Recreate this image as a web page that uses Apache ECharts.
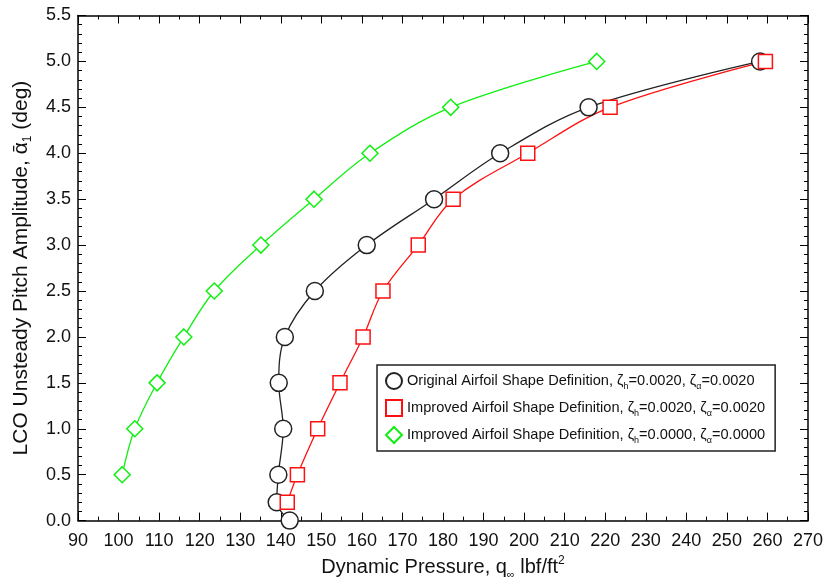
<!DOCTYPE html>
<html><head><meta charset="utf-8">
<script src="https://cdn.jsdelivr.net/npm/echarts@6/dist/echarts.min.js"></script>
<style>html,body{margin:0;padding:0;background:#fff}#c{width:826px;height:585px}</style>
</head><body><div id="c"></div>
<script>
const origY = [0.0, 0.2, 0.5, 1.0, 1.5, 2.0, 2.5, 3.0, 3.5, 4.0, 4.5, 5.0];
const origX = [142.2, 139.0, 139.4, 140.6, 139.5, 141.0, 148.4, 161.2, 177.8, 194.1, 215.9, 258.2];
const impY = [0.2, 0.5, 1.0, 1.5, 2.0, 2.5, 3.0, 3.5, 4.0, 4.5, 5.0];
const impX = [141.6, 144.1, 149.1, 154.6, 160.3, 165.2, 173.9, 182.5, 200.9, 221.2, 259.5];
const imp0Y = [0.5, 1.0, 1.5, 2.0, 2.5, 3.0, 3.5, 4.0, 4.5, 5.0];
const imp0X = [100.9, 104.0, 109.5, 116.1, 123.6, 135.1, 148.2, 162.0, 181.9, 217.9];
const seriesNames = ['orig', 'imp', 'imp0'];
const legendLabels = {
  orig: 'Original Airfoil Shape Definition, ζ{s|h}=0.0020, ζ{s|α}=0.0020',
  imp: 'Improved Airfoil Shape Definition, ζ{s|h}=0.0020, ζ{s|α}=0.0020',
  imp0: 'Improved Airfoil Shape Definition, ζ{s|h}=0.0000, ζ{s|α}=0.0000'
};
const xMin = 90, xMax = 270, xStep = 10;
const yMin = 0, yMax = 5.5, yStep = 0.5;

const font = 'Liberation Sans, Arial, sans-serif';
const pairs = (xs, ys) => xs.map((x, i) => [x, ys[i]]);
const chart = echarts.init(document.getElementById('c'), null, {renderer: 'canvas'});

const frame = {
  axisLine: {show: true, onZero: false, lineStyle: {color: '#000', width: 1.5}},
  axisTick: {show: true, inside: true, length: 8, lineStyle: {color: '#000', width: 1}},
  splitLine: {show: false}
};
const minorX = {show: true, splitNumber: 2, length: 4, lineStyle: {color: '#000', width: 1}};
const minorY = {show: true, splitNumber: 5, length: 4, lineStyle: {color: '#000', width: 1}};

const mk = (name, data, color, symbol, size) => ({
  name, type: 'line', data, smooth: 0.35, symbol, symbolSize: size,
  lineStyle: {color, width: 1.3},
  itemStyle: {color: '#fff', borderColor: color, borderWidth: 1.5},
  z: 3
});

chart.setOption({
  animation: false,
  backgroundColor: '#fff',
  textStyle: {fontFamily: font},
  grid: {left: 78, right: 18, top: 15.5, bottom: 59},
  xAxis: [
    Object.assign({type: 'value', min: xMin, max: xMax, interval: xStep, minorTick: minorX,
      axisLabel: {color: '#111', fontSize: 18, margin: 11, fontFamily: font},
      name: 'Dynamic Pressure, q{sub|∞} lbf/ft{sup|2}', nameLocation: 'middle', nameGap: 33,
      nameTextStyle: {color: '#111', fontSize: 20, fontFamily: font,
        rich: {sub: {fontSize: 11, padding: [15, 0, 0, 0]}, sup: {fontSize: 12, padding: [0, 0, 13, 0]}}}
    }, frame),
    Object.assign({type: 'value', position: 'top', min: xMin, max: xMax, interval: xStep,
      minorTick: minorX, axisLabel: {show: false}}, frame)
  ],
  yAxis: [
    Object.assign({type: 'value', min: yMin, max: yMax, interval: yStep, minorTick: minorY,
      axisLabel: {color: '#111', fontSize: 18, margin: 7, fontFamily: font, formatter: v => v.toFixed(1)},
      name: 'LCO Unsteady Pitch Amplitude, α\u0304{sub|1} (deg)', nameLocation: 'middle', nameGap: 44,
      nameTextStyle: {color: '#111', fontSize: 21, fontFamily: font,
        rich: {sub: {fontSize: 12, padding: [14, 0, 0, 0]}}}
    }, frame),
    Object.assign({type: 'value', position: 'right', min: yMin, max: yMax, interval: yStep,
      minorTick: minorY, axisLabel: {show: false}}, frame)
  ],
  legend: {
    orient: 'vertical', left: 377, top: 365,
    backgroundColor: '#fff', borderColor: '#222', borderWidth: 1.5, padding: [7, 10, 6, 8],
    itemGap: 8, itemWidth: 16, itemHeight: 16,
    data: [
      {name: 'orig', icon: 'circle'},
      {name: 'imp', icon: 'rect'},
      {name: 'imp0', icon: 'diamond'}
    ],
    formatter: n => legendLabels[n],
    textStyle: {color: '#111', fontSize: 14.6, fontFamily: font,
      rich: {s: {fontSize: 9, padding: [11, 0, 0, 0]}}}
  },
  series: [
    mk(seriesNames[0], pairs(origX, origY), '#222', 'circle', 17),
    mk(seriesNames[1], pairs(impX, impY), '#ff1010', 'rect', 14),
    mk(seriesNames[2], pairs(imp0X, imp0Y), '#10f010', 'diamond', 16)
  ]
});
</script></body></html>
